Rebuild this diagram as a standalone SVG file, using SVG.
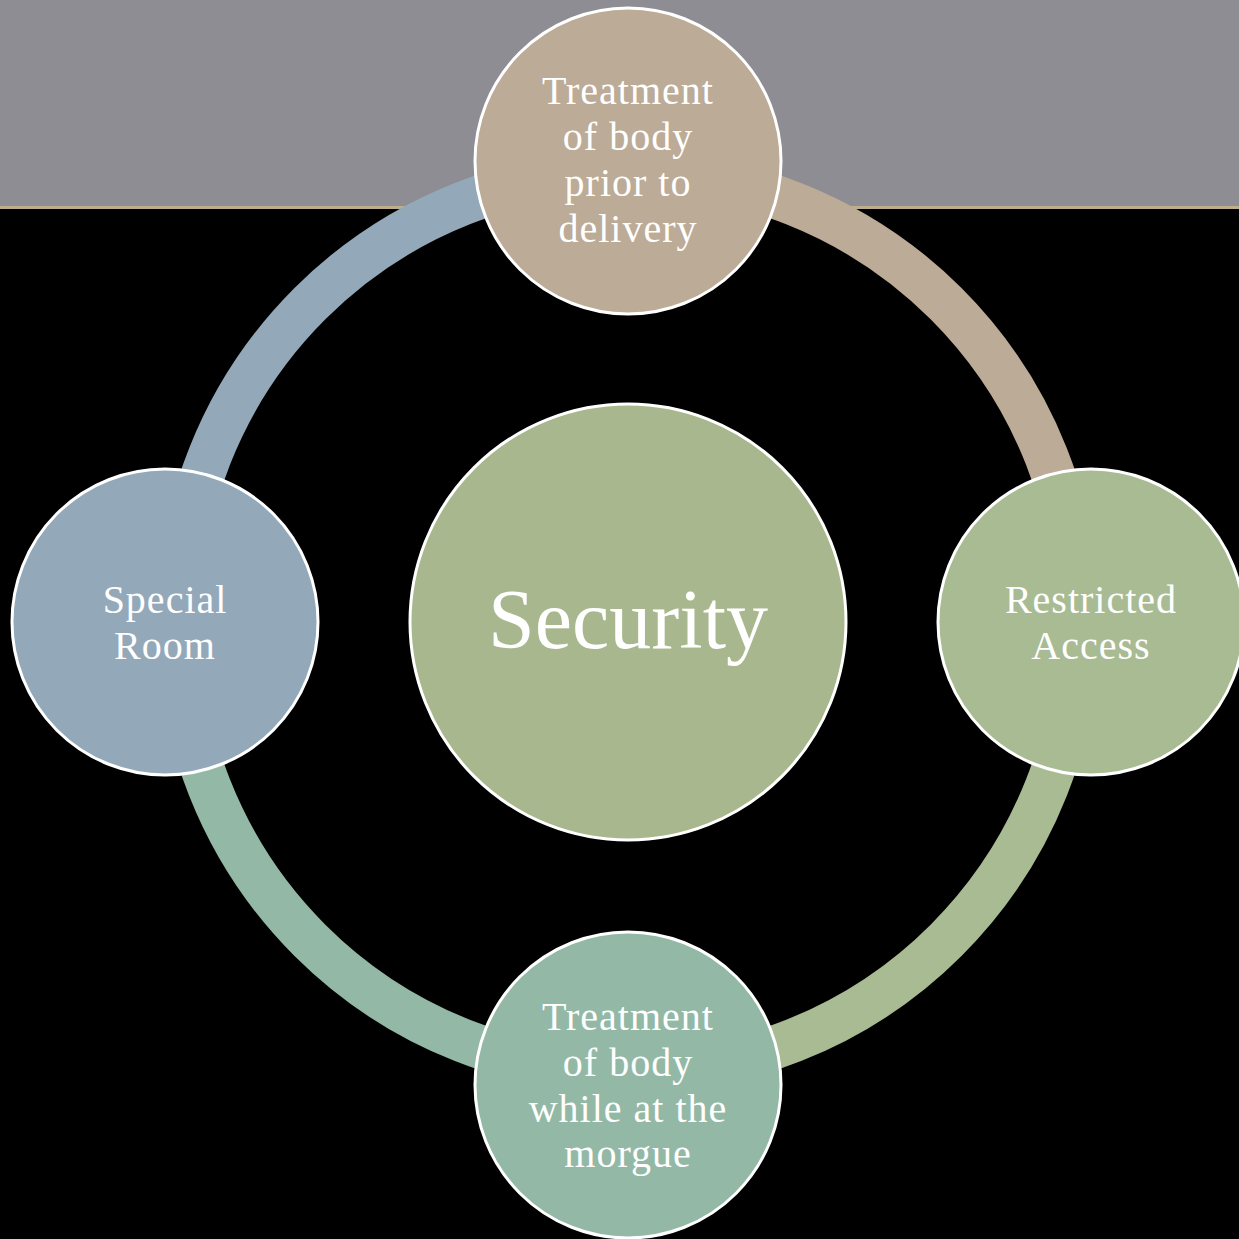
<svg xmlns="http://www.w3.org/2000/svg" width="1239" height="1239" viewBox="0 0 1239 1239">
<style>
.node{stroke:#ffffff;stroke-width:3}
.arc{fill:none;stroke-width:44}
.lbl{font-family:"Liberation Serif","Times New Roman",serif;fill:#ffffff;text-anchor:middle;font-size:40px;letter-spacing:1px}
.big{font-family:"Liberation Serif","Times New Roman",serif;fill:#ffffff;text-anchor:middle;font-size:84px}
</style>
<rect x="0" y="0" width="1239" height="1239" fill="#000000"/>
<rect x="0" y="0" width="1239" height="206" fill="#8e8d93"/>
<rect x="0" y="206" width="1239" height="3" fill="#bfae8c"/>
<g id="connectors">
<path class="arc" stroke="#93a9b9" d="M 178 622 A 450 450 0 0 1 628 172"/>
<path class="arc" stroke="#bcab97" d="M 628 172 A 450 450 0 0 1 1078 622"/>
<path class="arc" stroke="#a8bb93" d="M 1078 622 A 450 450 0 0 1 628 1072"/>
<path class="arc" stroke="#93b9a6" d="M 628 1072 A 450 450 0 0 1 178 622"/>
</g>
<g id="center">
<circle class="node" cx="628" cy="622" r="218" fill="#a8b78d"/>
<text class="big" x="628" y="648">Security</text>
</g>
<g id="node-top">
<circle class="node" cx="628" cy="161" r="153" fill="#bcab97"/>
<text class="lbl" x="628" y="104">Treatment</text>
<text class="lbl" x="628" y="150">of body</text>
<text class="lbl" x="628" y="196">prior to</text>
<text class="lbl" x="628" y="242">delivery</text>
</g>
<g id="node-right">
<circle class="node" cx="1091" cy="622" r="153" fill="#a8bb93"/>
<text class="lbl" x="1091" y="613">Restricted</text>
<text class="lbl" x="1091" y="659">Access</text>
</g>
<g id="node-bottom">
<circle class="node" cx="628" cy="1085" r="153" fill="#93b9a6"/>
<text class="lbl" x="628" y="1030">Treatment</text>
<text class="lbl" x="628" y="1076">of body</text>
<text class="lbl" x="628" y="1122">while at the</text>
<text class="lbl" x="628" y="1167">morgue</text>
</g>
<g id="node-left">
<circle class="node" cx="165" cy="622" r="153" fill="#93a9b9"/>
<text class="lbl" x="165" y="613">Special</text>
<text class="lbl" x="165" y="659">Room</text>
</g>
</svg>
